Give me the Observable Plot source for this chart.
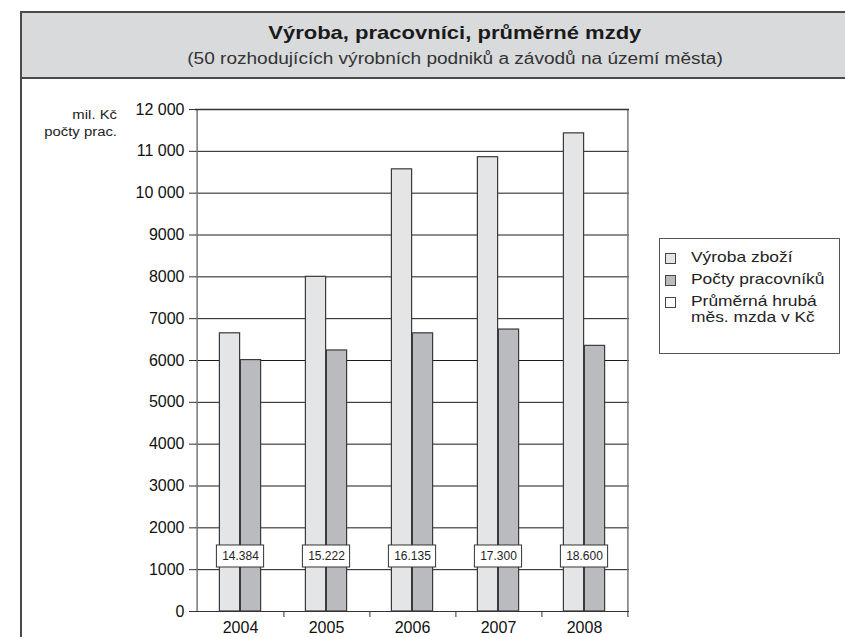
<!DOCTYPE html>
<html>
<head>
<meta charset="utf-8">
<script src="https://cdn.jsdelivr.net/npm/d3@7"></script>
<script src="https://cdn.jsdelivr.net/npm/@observablehq/plot@0.6"></script>
<style>
  html, body { margin: 0; padding: 0; }
  body { width: 845px; height: 637px; overflow: hidden; background: #fff; position: relative;
         font-family: "Liberation Sans", Arial, Helvetica, sans-serif; color: #111; }
  #frame { position: absolute; left: 20px; top: 11px; width: 900px; height: 700px;
           border: 2px solid #4a4a4a; box-sizing: border-box; }
  #band { position: absolute; left: 20px; top: 11px; width: 900px; height: 68px;
          background: #d9dadc; border: 2px solid #4a4a4a; box-sizing: border-box; }
  .center { position: absolute; left: 0; width: 910px; text-align: center; white-space: nowrap; }
  .center span { display: inline-block; transform: scaleX(1.19); transform-origin: 50% 50%; }
  #title { top: 22px; font-weight: bold; font-size: 18.5px; line-height: 22px; color: #1a1a1a; }
  #subtitle { top: 49px; font-size: 16px; line-height: 20px; color: #333; }
  #ylab { position: absolute; left: 40px; width: 77px; top: 107px; text-align: right; font-size: 12.5px;
          line-height: 17px; color: #222; }
  #ylab div { transform: scaleX(1.19); transform-origin: 100% 50%; white-space: nowrap; }
  #chart { position: absolute; left: 0; top: 90px; }
  #legend { position: absolute; left: 659px; top: 238px; width: 181px; height: 116px;
            border: 1px solid #555; box-sizing: border-box; background: #fff; font-size: 14.5px; color: #222; }
  .item { position: absolute; left: 5px; display: flex; align-items: flex-start; line-height: 16px; }
  .sw { width: 9px; height: 9px; border: 1px solid #444; margin-top: 4px; margin-right: 15px; flex: none; }
  .lt { transform: scaleX(1.2); transform-origin: 0 50%; white-space: nowrap; }
</style>
</head>
<body>
<div id="frame"></div>
<div id="band"></div>
<div id="title" class="center"><span></span></div>
<div id="subtitle" class="center"><span></span></div>
<div id="ylab"></div>
<div id="chart"></div>
<div id="legend"></div>
<script>
// ---- data ----
const years = ["2004", "2005", "2006", "2007", "2008"];
const vyrobaZbozi = [6650, 8000, 10570, 10860, 11430];      // mil. Kč
const poctyPracovniku = [6010, 6240, 6650, 6740, 6350];     // počty
const prumernaMzda = ["14.384", "15.222", "16.135", "17.300", "18.600"]; // Kč
const yTicks = [0, 1000, 2000, 3000, 4000, 5000, 6000, 7000, 8000, 9000, 10000, 11000, 12000];
const yTickLabels = ["0", "1000", "2000", "3000", "4000", "5000", "6000", "7000", "8000", "9000", "10 000", "11 000", "12 000"];
const seriesNames = ["Výroba zboží", "Počty pracovníků", "Průměrná hrubá\nměs. mzda v Kč"];
const seriesColors = ["#e4e5e7", "#b9bbbf", "#ffffff"];
const titleText = "Výroba, pracovníci, průměrné mzdy";
const subtitleText = "(50 rozhodujících výrobních podniků a závodů na území města)";
const yLabelLines = ["mil. Kč", "počty prac."];
const wageLabelLevel = 1315; // y level (data units) where wage boxes sit

// ---- text ----
document.querySelector("#title span").textContent = titleText;
document.querySelector("#subtitle span").textContent = subtitleText;
const ylab = document.getElementById("ylab");
yLabelLines.forEach(t => { const d = document.createElement("div"); d.textContent = t; ylab.appendChild(d); });

const legend = document.getElementById("legend");
const legendTops = [10, 32, 54];
seriesNames.forEach((name, i) => {
  const it = document.createElement("div");
  it.className = "item";
  it.style.top = legendTops[i] + "px";
  const sw = document.createElement("div");
  sw.className = "sw";
  sw.style.background = seriesColors[i];
  const tx = document.createElement("div");
  name.split("\n").forEach(line => {
    const l = document.createElement("div"); l.className = "lt"; l.textContent = line; tx.appendChild(l);
  });
  it.appendChild(sw); it.appendChild(tx);
  legend.appendChild(it);
});

// ---- chart ----
const table = years.map((year, i) => ({
  year, vyroba: vyrobaZbozi[i], pracovnici: poctyPracovniku[i], mzda: prumernaMzda[i]
}));

const W = 845, H = 547;
const mL = 195, mR = 216, mT = 19, mB = 26;
const bw = (W - mL - mR) / years.length;
const barW = 21;
const ins = (bw - barW) / 2;
const pxPerUnit = (H - mT - mB) / 12000;
const boxHalf = 11 / pxPerUnit;
const boxIns = (bw - 48) / 2;
const labelMap = new Map(yTicks.map((t, i) => [t, yTickLabels[i]]));

const chart = Plot.plot({
  width: W, height: H,
  marginLeft: mL, marginRight: mR, marginTop: mT, marginBottom: mB,
  style: { background: "none", fontFamily: "'Liberation Sans', Arial, sans-serif", color: "#111", overflow: "visible" },
  x: { type: "band", domain: years, padding: 0 },
  y: { domain: [0, 12000] },
  marks: [
    Plot.ruleY(yTicks, { stroke: "#1a1a1a", strokeWidth: 1 }),
    Plot.ruleX([years[0]], { x: d => d, dx: -bw / 2, stroke: "#777", strokeWidth: 1.5 }),
    Plot.ruleX([years[years.length - 1]], { x: d => d, dx: bw / 2, y1: 0, y2: 12000, stroke: "#777", strokeWidth: 1.5 }),
    Plot.barY(table, { x: "year", y: "vyroba", fill: seriesColors[0], stroke: "#3a3a3a", strokeWidth: 1.2,
                       insetLeft: ins, insetRight: ins, dx: -barW / 2 }),
    Plot.barY(table, { x: "year", y: "pracovnici", fill: seriesColors[1], stroke: "#3a3a3a", strokeWidth: 1.2,
                       insetLeft: ins, insetRight: ins, dx: barW / 2 }),
    Plot.barY(table, { x: "year", y1: wageLabelLevel - boxHalf, y2: wageLabelLevel + boxHalf,
                       fill: "#fff", stroke: "#333", strokeWidth: 1, insetLeft: boxIns, insetRight: boxIns }),
    Plot.text(table, { x: "year", y: wageLabelLevel, text: "mzda", fontSize: 12, fill: "#222" }),
    Plot.ruleY([12000], { stroke: "#333", strokeWidth: 1.5 }),
    Plot.ruleY([0], { stroke: "#333", strokeWidth: 1.2 }),
    Plot.axisY({ ticks: yTicks, tickSize: 6, tickPadding: 5, fontSize: 16, stroke: "#333",
                 tickFormat: d => labelMap.get(d), label: null }),
    Plot.axisX({ tickSize: 6, dx: bw / 2, tickFormat: () => "", stroke: "#333", label: null }),
    Plot.axisX({ tickSize: 0, tickPadding: 10, fontSize: 16, label: null })
  ]
});
document.getElementById("chart").appendChild(chart);
</script>
</body>
</html>
